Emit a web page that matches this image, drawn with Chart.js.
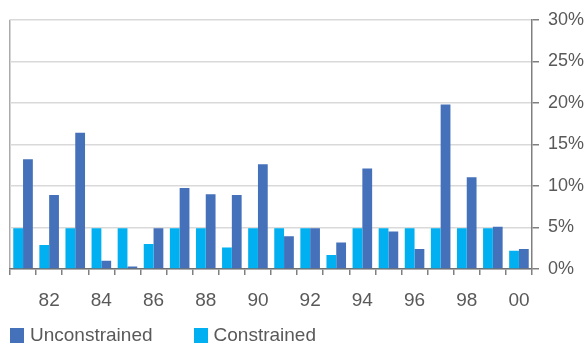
<!DOCTYPE html>
<html>
<head>
<meta charset="utf-8">
<script src="https://cdn.jsdelivr.net/npm/chart.js@4"></script>
<style>
  html, body { margin: 0; padding: 0; background: #fff; }
  #wrap { position: relative; width: 587px; height: 348px; }
  #c { position: absolute; left: 0; top: 0; }
  #legend { position: absolute; left: 10px; top: 324px; font-family: "Liberation Sans", Arial, sans-serif; font-size: 19px; color: #595959; display: flex; }
  .item { display: flex; align-items: center; height: 22px; }
  .box { width: 14px; height: 15px; margin-right: 6px; }
</style>
</head>
<body>
<div id="wrap">
  <canvas id="c" width="587" height="348"></canvas>
  <div id="legend"></div>
</div>
<script>
const years = ['81','82','83','84','85','86','87','88','89','90','91','92','93','94','95','96','97','98','99','00'];
const tickLabels = ['', '82', '', '84', '', '86', '', '88', '', '90', '', '92', '', '94', '', '96', '', '98', '', '00'];
const constrained = [4.9, 2.9, 4.9, 4.9, 4.9, 3.0, 4.9, 4.9, 2.6, 4.9, 4.9, 4.9, 1.7, 4.9, 4.9, 4.9, 4.9, 4.9, 4.9, 2.2];
const unconstrained = [13.2, 8.9, 16.4, 1.0, 0.3, 4.9, 9.75, 9.0, 8.9, 12.6, 3.95, 4.9, 3.2, 12.1, 4.5, 2.4, 19.8, 11.05, 5.1, 2.4];
const yTicks = [0, 5, 10, 15, 20, 25, 30];

const colC = '#00B0F0';
const colU = '#4570BA';
const txt = '#595959';
const fam = '"Liberation Sans", Arial, sans-serif';

const chart = new Chart(document.getElementById('c'), {
  type: 'bar',
  data: {
    labels: years,
    datasets: [
      { label: 'Constrained', data: constrained, backgroundColor: colC, categoryPercentage: 0.75, barPercentage: 1.0 },
      { label: 'Unconstrained', data: unconstrained, backgroundColor: colU, categoryPercentage: 0.75, barPercentage: 1.0 }
    ]
  },
  options: {
    responsive: false,
    animation: false,
    layout: { padding: { left: 10, top: 16, right: 0, bottom: 40 } },
    plugins: { legend: { display: false }, tooltip: { enabled: false } },
    scales: {
      x: {
        grid: {
          offset: true,
          drawOnChartArea: true,
          color: (ctx) => ctx.index === 0 ? '#ababab' : 'rgba(0,0,0,0)',
          lineWidth: 1.5,
          tickColor: '#808080',
          tickLength: 6
        },
        border: { color: '#707070', width: 1.5 },
        ticks: {
          autoSkip: false, maxRotation: 0, minRotation: 0,
          color: txt, font: { family: fam, size: 19 }, padding: 14,
          callback: (v, i) => tickLabels[i]
        },
        afterFit: (s) => { s.height = 39; }
      },
      y: {
        position: 'right',
        min: 0, max: 30,
        afterBuildTicks: (s) => { s.ticks = yTicks.map(v => ({ value: v })); },
        grid: { color: '#d9d9d9', lineWidth: 1.5, tickColor: '#808080', tickLength: 7 },
        border: { color: '#808080', width: 1.5 },
        ticks: { color: txt, font: { family: fam, size: 18 }, padding: 9, callback: (v) => v + '%' },
        afterFit: (s) => { s.width = 55; }
      }
    }
  }
});

// HTML legend built from the datasets (listed in reverse order as in the original)
const leg = document.getElementById('legend');
const gaps = [41, 0];
chart.data.datasets.slice().reverse().forEach((ds, i) => {
  const it = document.createElement('div');
  it.className = 'item';
  it.style.marginRight = gaps[i] + 'px';
  const b = document.createElement('span');
  b.className = 'box';
  b.style.background = ds.backgroundColor;
  const t = document.createElement('span');
  t.textContent = ds.label;
  it.appendChild(b); it.appendChild(t);
  leg.appendChild(it);
});
</script>
</body>
</html>
